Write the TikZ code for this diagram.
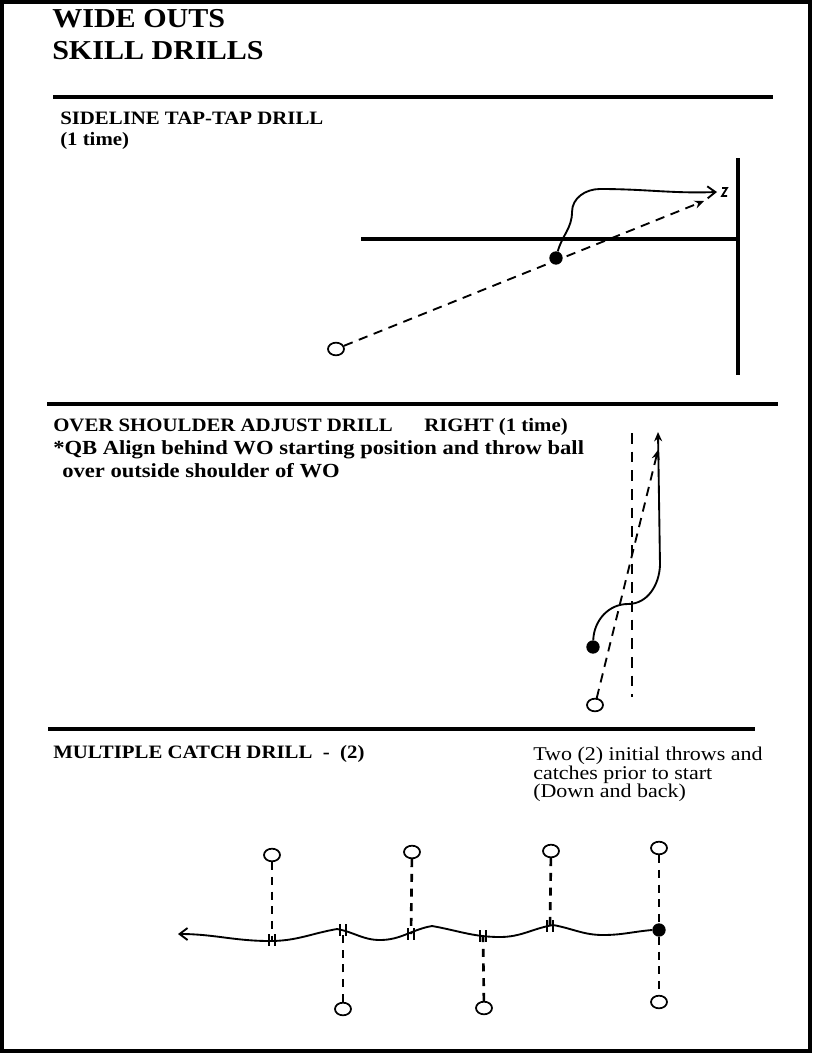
\documentclass[tikz,border=0pt]{standalone}
\usepackage{fontspec}
\setmainfont{Liberation Serif}[FakeStretch=1.1]
\usepackage{tikz}
\usetikzlibrary{shapes.geometric, arrows.meta, positioning, calc}

\begin{document}
\begin{tikzpicture}[
      x=0.75pt, y=-0.75pt,
      title/.style={anchor=base west, inner sep=0pt,
        font=\fontsize{20.5}{22}\selectfont\bfseries},
      head/.style={anchor=base west, inner sep=0pt,
        font=\fontsize{14.2}{16}\selectfont\bfseries},
      body/.style={anchor=base west, inner sep=0pt,
        font=\fontsize{15}{17}\selectfont\bfseries\addfontfeature{FakeStretch=1.13}},
      note/.style={anchor=base west, inner sep=0pt,
        font=\fontsize{14.6}{16}\selectfont\addfontfeature{FakeStretch=1.13}},
      rule/.style={line width=3.2pt},
      field/.style={line width=2.3pt},
      wo/.style={ellipse, draw, line width=1.3pt, fill=white,
        minimum width=12pt, minimum height=9.5pt, inner sep=0pt},
      ball/.style={circle, fill=black, minimum size=10pt, inner sep=0pt},
      route/.style={line width=1.4pt},
      throw/.style={line width=1.4pt, dash pattern=on 7pt off 5pt},
      lane/.style={line width=1.8pt, dash pattern=on 8pt off 6pt},
      catch/.style={line width=2pt, dash pattern=on 6pt off 5pt},
      hash/.style={line width=1.3pt},
      barbtip/.style={-{Straight Barb[length=6pt,width=9pt]}},
      filltip/.style={-{Stealth[length=7pt,width=6pt]}}
    ]
    \useasboundingbox (0,0) rectangle (815,1056);
    \draw[line width=3pt] (2,2) rectangle (810,1051);

    % --- Titles ---
    \node[title] (title1) at (52,28) {WIDE OUTS};
    \node[title] (title2) at (52,60) {SKILL DRILLS};
    \draw[rule] (53,97) -- (773,97);

    % --- Sideline tap-tap drill ---
    \node[head] (head1) at (60,124) {SIDELINE TAP-TAP DRILL};
    \node[head] (reps1) at (60,145) {(1 time)};
    \draw[field] (361,239) -- (738,239);
    \draw[field] (738,158) -- (738,375);
    \node[wo]   (wo1)   at (336,349) {};
    \node[ball] (ball1) at (556,258) {};
    \coordinate (tap1)   at (717,192);
    \coordinate (catch1) at (704,201);
    \draw[throw, filltip] (wo1) -- (catch1);
    \draw[route, barbtip] (ball1) to[out=75,in=-90] (572,212)
      to[out=90,in=180] (600,189) to[out=0,in=182] (tap1);
    \draw[hash] (722,188) -- (727,188) -- (722,196) -- (727,196);

    \draw[rule] (47,404) -- (778,404);

    % --- Over shoulder adjust drill ---
    \node[head] (head2) at (53,431) {OVER SHOULDER ADJUST DRILL};
    \node[head] (reps2) at (424,431) {RIGHT (1 time)};
    \node[body] (note2a) at (53,454) {*QB Align behind WO starting position and throw ball};
    \node[body] (note2b) at (62,477) {over outside shoulder of WO};
    \node[wo]   (wo2)   at (595,705) {};
    \node[ball] (ball2) at (593,647) {};
    \coordinate (laneTop) at (632,433);
    \coordinate (laneBot) at (632,697);
    \coordinate (catch2)  at (658,450);
    \coordinate (tap2)    at (658,432);
    \draw[lane] (laneTop) -- (laneBot);
    \draw[throw, filltip] (wo2) -- (catch2);
    \draw[route, filltip] (ball2) to[out=88,in=180] (628,604)
      to[out=0,in=-92] (660,565) -- (tap2);

    \draw[rule] (48,729) -- (755,729);

    % --- Multiple catch drill ---
    \node[head] (head3) at (53,758) {MULTIPLE CATCH DRILL\ \ -\ \ (2)};
    \node[note] (note3a) at (533,760) {Two (2) initial throws and};
    \node[note] (note3b) at (533,779) {catches prior to start};
    \node[note] (note3c) at (533,797) {(Down and back)};

    \node[wo] (top1) at (272,855) {};
    \node[wo] (top2) at (412,852) {};
    \node[wo] (top3) at (551,851) {};
    \node[wo] (top4) at (659,848) {};
    \node[wo] (bot1) at (343,1009) {};
    \node[wo] (bot2) at (484,1008) {};
    \node[wo] (bot3) at (659,1002) {};
    \node[ball] (ball3) at (659,930) {};
    \coordinate (run3) at (178,934);
    \foreach \hx/\hy [count=\i] in {272/940, 343/930, 411/934, 483/936, 550/926} {
      \coordinate (cross\i) at (\hx,\hy);
    }

    \draw[catch] (top1) -- (cross1);
    \draw[catch] (top2) -- (cross3);
    \draw[catch] (top3) -- (cross5);
    \draw[catch] (top4) -- (ball3);
    \draw[catch] (ball3) -- (bot3);
    \draw[catch] (bot1) -- (cross2);
    \draw[catch] (bot2) -- (cross4);

    \draw[route, barbtip] (ball3.west) to[out=185,in=0] (603,935)
      to[out=180,in=-10] (553,925) to[out=190,in=0] (500,937)
      to[out=180,in=-10] (432,926) to[out=190,in=0] (380,940)
      to[out=180,in=-10] (337,929) to[out=190,in=0] (270,941)
      to[out=180,in=0] (run3);
    \foreach \i in {1,...,5} {
      \draw[hash] ([xshift=-2.2pt,yshift=4.5pt]cross\i) -- ([xshift=-2.2pt,yshift=-4.5pt]cross\i)
        ([xshift=2.2pt,yshift=4.5pt]cross\i) -- ([xshift=2.2pt,yshift=-4.5pt]cross\i);
    }
\end{tikzpicture}
\end{document}
